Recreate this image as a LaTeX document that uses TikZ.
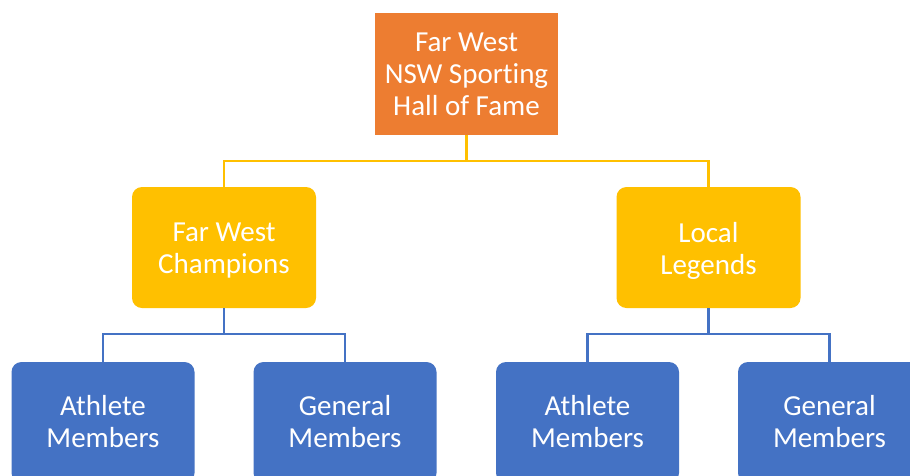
\documentclass[tikz,border=0pt]{standalone}
\usepackage{fontspec}
\setmainfont{Carlito}[Ligatures={NoCommon}]
\definecolor{orgc}{HTML}{ED7D31}
\definecolor{gldc}{HTML}{FFC000}
\definecolor{bluc}{HTML}{4472C4}
\begin{document}
\begin{tikzpicture}[x=1pt,y=-1pt,
  lbl/.style={inner sep=0pt, text=white, align=center,
    font=\fontsize{29}{32}\selectfont},
  box/.style={inner sep=0pt},
  topbox/.style={box, fill=orgc, minimum width=183pt, minimum height=122pt},
  midbox/.style={box, fill=gldc, rounded corners=10pt, minimum width=184pt, minimum height=121pt},
  lowbox/.style={box, fill=bluc, rounded corners=10pt, minimum width=183pt, minimum height=121pt},
  goldline/.style={draw=gldc, line width=2.5pt},
  blueline/.style={draw=bluc, line width=2.5pt}]
\useasboundingbox (0,0) rectangle (910,475);
\clip (0,0) rectangle (910,475);
\fill[white] (0,0) rectangle (910,475);
\node[topbox, label={[lbl]center:Far West\\NSW Sporting\\Hall of Fame}] (top) at (466.5,74) {};
\node[midbox, label={[lbl,yshift=-3pt]center:Far West\\Champions}] (fw) at (224,247.5) {};
\node[midbox, label={[lbl,yshift=-3pt]center:Local\\Legends}] (ll) at (708.5,247.5) {};
\node[lowbox, label={[lbl,yshift=1pt]center:Athlete\\Members}] (a1) at (103,422.5) {};
\node[lowbox, label={[lbl,yshift=1pt]center:General\\Members}] (g1) at (345,422.5) {};
\node[lowbox, label={[lbl,yshift=1pt]center:Athlete\\Members}] (a2) at (587.5,422.5) {};
\node[lowbox, label={[lbl,yshift=1pt]center:General\\Members}] (g2) at (829.5,422.5) {};
\coordinate (tj) at (466.5,161);
\coordinate (fj) at (224,334);
\coordinate (lj) at (708.5,334);
\draw[goldline] (top.south) -- (tj);
\draw[goldline] (tj) -| (fw.north);
\draw[goldline] (tj) -| (ll.north);
\draw[blueline] (fw.south) -- (fj);
\draw[blueline] (fj) -| (a1.north);
\draw[blueline] (fj) -| (g1.north);
\draw[blueline] (ll.south) -- (lj);
\draw[blueline] (lj) -| (a2.north);
\draw[blueline] (lj) -| (g2.north);
\end{tikzpicture}
\end{document}
